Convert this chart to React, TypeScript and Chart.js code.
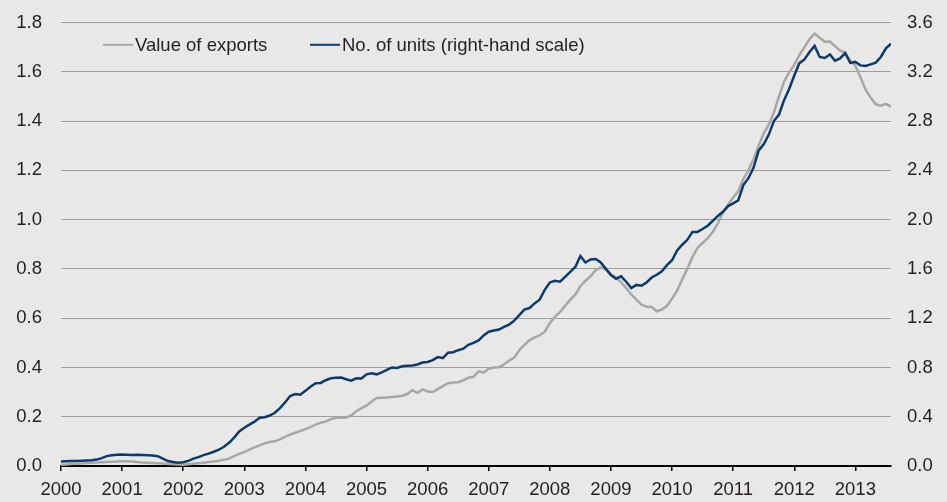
import React, { useEffect, useRef } from 'react';
import { Chart, registerables } from 'chart.js';

Chart.register(...registerables);

// Year tick labels (one per January, month index = 12 * position)
const yearLabels = ['2000', '2001', '2002', '2003', '2004', '2005', '2006', '2007', '2008', '2009', '2010', '2011', '2012', '2013'];

// Value of exports (left-hand scale), monthly Jan 2000 - Aug 2013
const exportsValue = [
  0.005, 0.006, 0.008, 0.009, 0.010, 0.012, 0.013, 0.014, 0.015, 0.016, 0.017, 0.018,
  0.019, 0.019, 0.018, 0.016, 0.014, 0.013, 0.012, 0.011, 0.010, 0.008, 0.007, 0.006,
  0.005, 0.007, 0.009, 0.011, 0.013, 0.016, 0.018, 0.021, 0.025, 0.030, 0.040, 0.049,
  0.056, 0.066, 0.076, 0.084, 0.092, 0.097, 0.100, 0.108, 0.118, 0.128, 0.135, 0.142,
  0.150, 0.158, 0.168, 0.176, 0.180, 0.190, 0.196, 0.196, 0.197, 0.205, 0.222, 0.235,
  0.245, 0.262, 0.276, 0.277, 0.278, 0.280, 0.282, 0.285, 0.292, 0.308, 0.297, 0.311,
  0.302, 0.300, 0.312, 0.324, 0.336, 0.339, 0.340, 0.348, 0.358, 0.362, 0.384, 0.380,
  0.395, 0.400, 0.401, 0.412, 0.428, 0.440, 0.470, 0.492, 0.510, 0.522, 0.530, 0.545,
  0.580, 0.605, 0.625, 0.650, 0.675, 0.695, 0.730, 0.752, 0.770, 0.795, 0.805, 0.798,
  0.778, 0.765, 0.745, 0.722, 0.695, 0.675, 0.655, 0.646, 0.645, 0.628, 0.635, 0.650,
  0.680, 0.712, 0.758, 0.800, 0.848, 0.885, 0.905, 0.925, 0.950, 0.985, 1.030, 1.060,
  1.090, 1.115, 1.165, 1.200, 1.245, 1.300, 1.350, 1.385, 1.435, 1.500, 1.560, 1.598,
  1.628, 1.668, 1.700, 1.732, 1.755, 1.738, 1.722, 1.723, 1.704, 1.686, 1.678, 1.645,
  1.625, 1.578, 1.528, 1.495, 1.468, 1.462, 1.470, 1.458,
];

// No. of units (right-hand scale), monthly Jan 2000 - Aug 2013
const unitsCount = [
  0.036, 0.038, 0.040, 0.040, 0.042, 0.044, 0.046, 0.052, 0.064, 0.080, 0.088, 0.092,
  0.094, 0.092, 0.090, 0.092, 0.090, 0.088, 0.086, 0.080, 0.060, 0.040, 0.032, 0.026,
  0.030, 0.042, 0.060, 0.072, 0.088, 0.100, 0.116, 0.132, 0.156, 0.188, 0.230, 0.280,
  0.310, 0.336, 0.360, 0.392, 0.396, 0.410, 0.432, 0.470, 0.516, 0.568, 0.584, 0.578,
  0.610, 0.644, 0.672, 0.674, 0.696, 0.712, 0.716, 0.718, 0.704, 0.692, 0.712, 0.710,
  0.744, 0.752, 0.744, 0.760, 0.780, 0.800, 0.796, 0.810, 0.814, 0.816, 0.824, 0.840,
  0.844, 0.860, 0.884, 0.876, 0.920, 0.924, 0.940, 0.952, 0.984, 1.000, 1.020, 1.060,
  1.090, 1.100, 1.108, 1.130, 1.148, 1.180, 1.224, 1.270, 1.282, 1.320, 1.350, 1.430,
  1.490, 1.504, 1.496, 1.536, 1.576, 1.616, 1.704, 1.652, 1.676, 1.680, 1.652, 1.600,
  1.550, 1.520, 1.540, 1.496, 1.444, 1.470, 1.464, 1.490, 1.530, 1.552, 1.580, 1.630,
  1.670, 1.750, 1.796, 1.836, 1.900, 1.900, 1.924, 1.950, 1.990, 2.030, 2.064, 2.110,
  2.132, 2.156, 2.280, 2.336, 2.420, 2.560, 2.612, 2.690, 2.800, 2.852, 2.970, 3.060,
  3.170, 3.270, 3.300, 3.360, 3.410, 3.320, 3.312, 3.340, 3.290, 3.308, 3.352, 3.272,
  3.280, 3.252, 3.248, 3.260, 3.274, 3.320, 3.390, 3.428,
];

const seriesNames = ['Value of exports', 'No. of units (right-hand scale)'];

const FONT = '"Liberation Sans", Arial, Helvetica, sans-serif';
const FONT_SIZE = 18.5;
const TEXT = '#231f20';
const BG = '#e8e9e6';
const GREY = '#a7a8a6';
const BLUE = '#0b3b6e';
const GRID = '#9e9e9c';

const insideLegend = {
  id: 'insideLegend',
  afterDraw(chart: any) {
    const { ctx, chartArea } = chart;
    const offsets = [42, 249];
    const y = chartArea.top + 22.3;
    ctx.save();
    ctx.font = `${FONT_SIZE}px ${FONT}`;
    ctx.textBaseline = 'middle';
    ctx.textAlign = 'left';
    seriesNames.forEach((name, i) => {
      const ds = chart.data.datasets.find((d: any) => d.label === name);
      const x0 = chartArea.left + offsets[i];
      ctx.strokeStyle = ds.borderColor;
      ctx.lineWidth = 2;
      ctx.beginPath();
      ctx.moveTo(x0, y);
      ctx.lineTo(x0 + 30, y);
      ctx.stroke();
      ctx.fillStyle = TEXT;
      ctx.fillText(name, x0 + 32, y + 1);
    });
    ctx.restore();
  },
};

export default function App() {
  const canvasRef = useRef<HTMLCanvasElement | null>(null);

  useEffect(() => {
    if (!canvasRef.current) return;
    const font = { family: FONT, size: FONT_SIZE };
    const chart = new Chart(canvasRef.current, {
      type: 'line',
      data: {
        datasets: [
          {
            label: seriesNames[0],
            data: exportsValue.map((v, i) => ({ x: i, y: v })),
            borderColor: GREY,
            backgroundColor: GREY,
            borderWidth: 2.5,
            pointRadius: 0,
            tension: 0,
            yAxisID: 'yL',
            order: 1,
          },
          {
            label: seriesNames[1],
            data: unitsCount.map((v, i) => ({ x: i, y: v })),
            borderColor: BLUE,
            backgroundColor: BLUE,
            borderWidth: 2.5,
            pointRadius: 0,
            tension: 0,
            yAxisID: 'yR',
            order: 0,
          },
        ],
      },
      options: {
        animation: false,
        responsive: true,
        maintainAspectRatio: false,
        layout: { padding: { top: 22.5, left: 0, right: 0, bottom: 0 } },
        plugins: {
          legend: { display: false },
          tooltip: { enabled: false },
        },
        scales: {
          x: {
            type: 'linear',
            min: 0,
            max: exportsValue.length - 1,
            afterBuildTicks: (scale: any) => {
              scale.ticks = yearLabels.map((_, i) => ({ value: i * 12 }));
            },
            afterFit: (scale: any) => {
              scale.height = 36;
            },
            ticks: {
              autoSkip: false,
              maxRotation: 0,
              padding: 7.5,
              color: TEXT,
              font,
              callback: (v: any) => yearLabels[Math.round(Number(v) / 12)],
            },
            grid: {
              display: true,
              drawOnChartArea: false,
              drawTicks: true,
              tickLength: 5,
              color: '#000',
              lineWidth: 1.5,
            },
            border: { display: true, color: '#000', width: 2 },
          },
          yL: {
            type: 'linear',
            position: 'left',
            min: 0,
            max: 1.8,
            afterFit: (scale: any) => {
              scale.width = 61;
              scale.paddingTop = 0;
              scale.paddingBottom = 0;
            },
            ticks: {
              stepSize: 0.2,
              padding: 19,
              color: TEXT,
              font,
              callback: (v: any) => Number(v).toFixed(1),
            },
            grid: {
              drawTicks: false,
              lineWidth: 1,
              color: (c: any) => (c.tick && Math.abs(c.tick.value) < 1e-9 ? 'rgba(0,0,0,0)' : GRID),
            },
            border: { display: false },
          },
          yR: {
            type: 'linear',
            position: 'right',
            min: 0,
            max: 3.6,
            afterFit: (scale: any) => {
              scale.width = 56;
              scale.paddingTop = 0;
              scale.paddingBottom = 0;
            },
            ticks: {
              stepSize: 0.4,
              padding: 16,
              color: TEXT,
              font,
              callback: (v: any) => Number(v).toFixed(1),
            },
            grid: { display: false, drawTicks: false },
            border: { display: false },
          },
        },
      },
      plugins: [insideLegend],
    });
    return () => chart.destroy();
  }, []);

  return (
    <div
      style={{
        position: 'fixed',
        left: 0,
        top: 0,
        width: 947,
        height: 502,
        background: BG,
      }}
    >
      <canvas ref={canvasRef} />
    </div>
  );
}
